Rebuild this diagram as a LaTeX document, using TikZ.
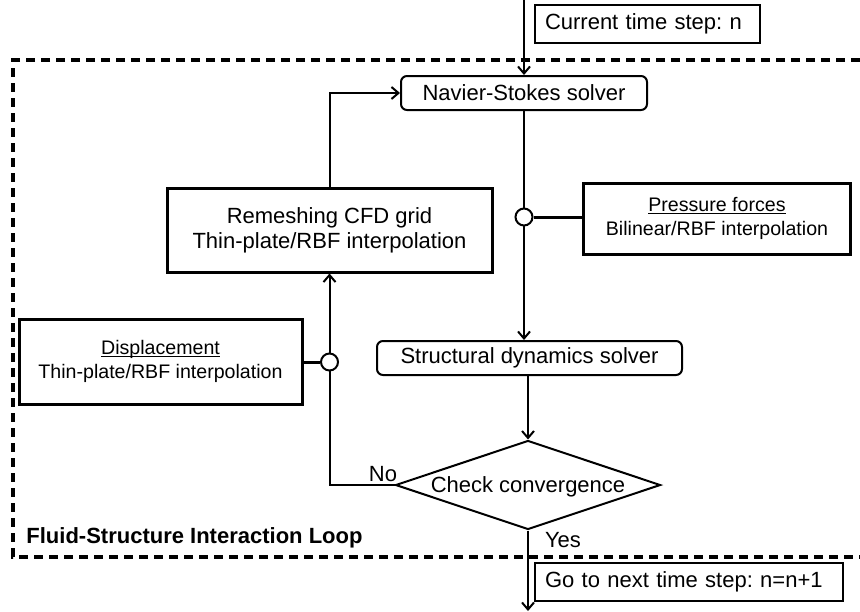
\documentclass[tikz,border=0pt]{standalone}
\usepackage{fontspec}
\setmainfont{Liberation Sans}
\usetikzlibrary{positioning, arrows.meta, shapes.geometric, calc}
\frenchspacing

\newlength{\ulwd}
\newcommand{\undertext}[1]{\settowidth{\ulwd}{#1}#1\hspace{-\ulwd}\rule[-1.3pt]{\ulwd}{0.45pt}}

\tikzset{
	solver/.style={draw, line width=1pt, rounded corners=3pt, minimum height=17pt, inner sep=0pt, font=\fontsize{11}{13}\selectfont},
	infobox/.style={draw, line width=1.5pt, align=center, inner sep=0pt, font=\fontsize{9.8}{12}\selectfont},
	stepbox/.style={draw, line width=1.3pt, align=left, inner xsep=5pt, inner ysep=0pt, minimum height=19pt, font=\fontsize{11}{13}\selectfont},
	flow/.style={line width=1pt},
	joint/.style={circle, draw, line width=1pt, fill=white, minimum size=8.5pt, inner sep=0pt},
	loopframe/.style={line width=1.6pt, dash pattern=on 4.5pt off 3pt},
}

\begin{document}
\begin{tikzpicture}[x=0.5pt, y=-0.5pt, >={Straight Barb[length=3.5pt,width=6pt]}]
	\useasboundingbox (0,0) rectangle (860,611);

	% loop frame
	\draw[loopframe] (860,60) -- (13,60) -- (13,557) -- (860,557);
	\node[anchor=west, inner sep=0pt, font=\fontsize{11}{13}\selectfont\bfseries] (looplabel) at (26,538) {Fluid-Structure Interaction Loop};

	% boxes
	\node[stepbox, text width=102.5pt] (curstep) at (647.5,24) {Current time step: n};
	\node[solver, minimum width=123pt] (ns) at (524,93) {Navier-Stokes solver};
	\node[infobox, minimum width=162.5pt, minimum height=42pt, font=\fontsize{11}{12.5}\selectfont] (remesh) at (329.5,230) {Remeshing CFD grid\\Thin-plate/RBF interpolation};
	\node[infobox, minimum width=133.5pt, minimum height=35.5pt] (press) at (717,218.5) {\undertext{Pressure forces}\\Bilinear/RBF interpolation};
	\node[solver, minimum width=152.5pt] (struct) at (529.5,358) {Structural dynamics solver};
	\node[infobox, minimum width=141.5pt, minimum height=42.5pt] (disp) at (160.5,361.5) {\undertext{Displacement}\\Thin-plate/RBF interpolation};
	\node[diamond, draw, line width=1pt, minimum width=132.5pt, minimum height=44.5pt, inner sep=0pt,
		label={[font=\fontsize{11}{13}\selectfont, yshift=-1pt]center:Check convergence}] (conv) at (528,485) {};
	\node[stepbox, text width=144pt] (nextstep) at (689,582) {Go to next time step: n=n+1};

	% free ends
	\coordinate (tin) at (524,0);
	\coordinate (tout) at (528,611);

	% connectors
	\draw[flow, ->] (tin) -- (ns.north);
	\draw[flow, ->] (ns.south) -- (ns.south |- struct.north);
	\draw[flow, ->] (conv.north |- struct.south) -- (conv.north);
	\draw[flow, ->] (conv.west) -| (remesh.south);
	\draw[flow, ->] (remesh.north) |- (ns.west);
	\draw[flow, ->] (conv.south) -- (tout);

	% transfer joints
	\node[joint] (jpress) at (524,217) {};
	\node[joint] (jdisp) at (329.5,362) {};
	\draw[line width=1.5pt] (jpress.east) -- (jpress.east -| press.west);
	\draw[line width=1.5pt] (disp.east |- jdisp.west) -- (jdisp.west);

	% labels
	\node[font=\fontsize{11}{13}\selectfont] (nolabel) at (383,474) {No};
	\node[font=\fontsize{11}{13}\selectfont] (yeslabel) at (563,540) {Yes};
\end{tikzpicture}
\end{document}
